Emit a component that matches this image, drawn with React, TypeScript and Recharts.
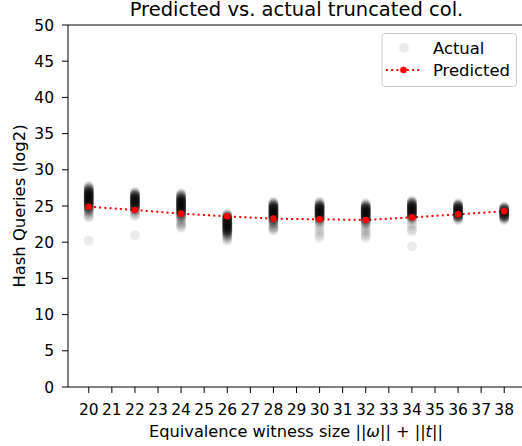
import React from "react";
import {
  ComposedChart,
  Scatter,
  Line,
  XAxis,
  YAxis,
  ReferenceLine,
} from "recharts";

// ---- data ----
const xTicks = [20, 21, 22, 23, 24, 25, 26, 27, 28, 29, 30, 31, 32, 33, 34, 35, 36, 37, 38];
const yTicks = [0, 5, 10, 15, 20, 25, 30, 35, 40, 45, 50];

const predictedX = [20, 22, 24, 26, 28, 30, 32, 34, 36, 38];
const predictedY = [24.9, 24.45, 23.94, 23.57, 23.25, 23.16, 23.07, 23.43, 23.85, 24.27];

// actual observations: [value, multiplicity]
const actual20: [number, number][] = [
  [27.8, 1], [27.6, 2], [27.4, 3], [27.2, 4], [27.0, 5], [26.8, 6], [26.6, 6], [26.4, 6],
  [26.2, 6], [26.0, 6], [25.8, 6], [25.6, 6], [25.4, 5], [25.2, 5], [25.0, 5], [24.8, 4],
  [24.6, 3], [24.4, 2], [24.2, 2], [24.0, 1], [23.8, 1], [23.6, 1], [23.4, 1], [20.2, 1],
];
const actual22: [number, number][] = [
  [27.0, 1], [26.8, 2], [26.6, 4], [26.4, 5], [26.2, 6], [26.0, 6], [25.8, 6], [25.6, 6],
  [25.4, 6], [25.2, 6], [25.0, 5], [24.8, 4], [24.6, 3], [24.4, 2], [24.2, 1], [24.0, 1],
  [23.8, 1], [23.6, 1], [21.0, 1],
];
const actual24: [number, number][] = [
  [26.8, 1], [26.6, 2], [26.4, 3], [26.2, 4], [26.0, 5], [25.8, 6], [25.6, 6], [25.4, 6],
  [25.2, 6], [25.0, 6], [24.8, 6], [24.6, 6], [24.4, 5], [24.2, 5], [24.0, 4], [23.8, 3],
  [23.6, 2], [23.4, 2], [23.2, 1], [23.0, 1], [22.8, 1], [22.6, 1], [22.4, 1], [22.2, 1], [22.0, 1],
];
const actual26: [number, number][] = [
  [24.0, 1], [23.8, 2], [23.6, 4], [23.4, 5], [23.2, 6], [23.0, 6], [22.8, 6], [22.6, 6],
  [22.4, 6], [22.2, 6], [22.0, 6], [21.8, 5], [21.6, 5], [21.4, 4], [21.2, 3], [21.0, 2],
  [20.8, 2], [20.6, 1], [20.4, 1], [20.2, 1],
];
const actual28: [number, number][] = [
  [25.6, 1], [25.4, 2], [25.2, 4], [25.0, 5], [24.8, 6], [24.6, 6], [24.4, 6], [24.2, 6],
  [24.0, 6], [23.8, 6], [23.6, 6], [23.4, 5], [23.2, 4], [23.0, 3], [22.8, 2], [22.6, 2],
  [22.4, 1], [22.2, 1], [22.0, 2], [21.8, 1], [21.6, 1],
];
const actual30: [number, number][] = [
  [25.6, 1], [25.4, 2], [25.2, 3], [25.0, 5], [24.8, 6], [24.6, 6], [24.4, 6], [24.2, 6],
  [24.0, 6], [23.8, 6], [23.6, 5], [23.4, 4], [23.2, 3], [23.0, 2], [22.8, 2], [22.5, 1],
  [22.2, 1], [21.8, 1], [21.4, 1], [21.0, 1], [20.6, 1],
];
const actual32: [number, number][] = [
  [25.4, 1], [25.2, 2], [25.0, 4], [24.8, 5], [24.6, 6], [24.4, 6], [24.2, 6], [24.0, 6],
  [23.8, 6], [23.6, 6], [23.4, 5], [23.2, 4], [23.0, 3], [22.8, 2], [22.6, 2], [22.4, 1],
  [22.1, 1], [21.8, 1], [21.5, 1], [21.2, 1], [20.9, 1], [20.6, 1],
];
const actual34: [number, number][] = [
  [25.8, 1], [25.6, 2], [25.4, 4], [25.2, 5], [25.0, 6], [24.8, 6], [24.6, 6], [24.4, 6],
  [24.2, 6], [24.0, 6], [23.8, 5], [23.6, 4], [23.4, 3], [23.2, 2], [23.0, 1], [22.6, 1],
  [22.2, 1], [21.8, 1], [21.5, 1], [19.4, 1],
];
const actual36: [number, number][] = [
  [25.4, 1], [25.2, 3], [25.0, 5], [24.8, 6], [24.6, 6], [24.4, 6], [24.2, 6], [24.0, 6],
  [23.8, 6], [23.6, 5], [23.4, 3], [23.2, 2], [23.0, 1],
];
const actual38: [number, number][] = [
  [24.9, 1], [24.8, 3], [24.6, 5], [24.4, 6], [24.2, 6], [24.0, 6], [23.8, 6], [23.6, 5],
  [23.4, 4], [23.2, 2], [23.0, 1],
];

const actualGroups: [number, [number, number][]][] = [
  [20, actual20], [22, actual22], [24, actual24], [26, actual26], [28, actual28],
  [30, actual30], [32, actual32], [34, actual34], [36, actual36], [38, actual38],
];

const POINT_ALPHA = 0.08;

const actualData = actualGroups.flatMap(([x, list]) =>
  list.map(([v, c]) => ({ x, y: v, op: 1 - Math.pow(1 - POINT_ALPHA, c) }))
);
const predictedData = predictedX.map((x, i) => ({ x, y: predictedY[i] }));

const FONT = "'DejaVu Sans', sans-serif";
const TICK_FONT = 15.5;

const XTick = (props: any) => (
  <text
    x={props.x}
    y={props.y}
    dy={19.5}
    textAnchor="middle"
    fontFamily={FONT}
    fontSize={TICK_FONT}
    fill="#000"
  >
    {props.payload.value}
  </text>
);

const YTick = (props: any) => (
  <text
    x={props.x}
    y={props.y}
    dx={-6}
    dy={5.5}
    textAnchor="end"
    fontFamily={FONT}
    fontSize={TICK_FONT}
    fill="#000"
  >
    {props.payload.value}
  </text>
);

const ActualShape = (p: any) => {
  const op = p.payload?.op ?? p.op ?? 0.08;
  return <circle cx={p.cx} cy={p.cy} r={5} fill="#000" fillOpacity={op} />;
};

export default function App() {
  return (
    <div
      style={{
        position: "fixed",
        left: 0,
        top: 0,
        width: 522,
        height: 446,
        overflow: "hidden",
        background: "#fff",
      }}
    >
      <ComposedChart
        width={530}
        height={446}
        margin={{ top: 25, right: 5, bottom: 0, left: 0 }}
      >
        <XAxis
          dataKey="x"
          type="number"
          domain={[19.1, 38.9]}
          ticks={xTicks}
          allowDataOverflow
          height={59}
          tickSize={6}
          tickMargin={2}
          interval={0}
          axisLine={{ stroke: "#000", strokeWidth: 1 }}
          tickLine={{ stroke: "#000", strokeWidth: 1 }}
          tick={<XTick />}
        />
        <YAxis
          dataKey="y"
          type="number"
          domain={[0, 50]}
          ticks={yTicks}
          allowDataOverflow
          width={68}
          tickSize={6}
          tickMargin={2}
          interval={0}
          axisLine={{ stroke: "#000", strokeWidth: 1 }}
          tickLine={{ stroke: "#000", strokeWidth: 1 }}
          tick={<YTick />}
        />
        <ReferenceLine y={50} stroke="#000" strokeWidth={1} ifOverflow="visible" />
        <Scatter
          data={actualData}
          dataKey="y"
          isAnimationActive={false}
          shape={ActualShape}
        />
        <Line
          data={predictedData}
          dataKey="y"
          type="linear"
          stroke="#ff0000"
          strokeWidth={2}
          strokeDasharray="2 3.2"
          dot={{ r: 3.3, fill: "#ff0000", stroke: "#ff0000", strokeWidth: 0 }}
          activeDot={false}
          isAnimationActive={false}
        />
      </ComposedChart>
      <svg
        width={522}
        height={446}
        style={{ position: "absolute", left: 0, top: 0, pointerEvents: "none" }}
      >
        <text x={296.5} y={16} textAnchor="middle" fontFamily={FONT} fontSize={19.5} fill="#000">
          Predicted vs. actual truncated col.
        </text>
        <text
          x={25}
          y={206}
          transform="rotate(-90 25 206)"
          textAnchor="middle"
          fontFamily={FONT}
          fontSize={16.4}
          fill="#000"
        >
          Hash Queries (log2)
        </text>
        <text x={296} y={437} textAnchor="middle" fontFamily={FONT} fontSize={16.2} fill="#000">
          Equivalence witness size ||
          <tspan fontStyle="italic">ω</tspan>|| + ||<tspan fontStyle="italic">t</tspan>||
        </text>
        {/* legend */}
        <rect
          x={382}
          y={33.5}
          width={134.5}
          height={53}
          rx={3}
          ry={3}
          fill="#fff"
          fillOpacity={0.8}
          stroke="#cccccc"
          strokeWidth={1}
        />
        <circle cx={404} cy={47.7} r={5} fill="#000" fillOpacity={POINT_ALPHA} />
        <text x={433} y={53.5} fontFamily={FONT} fontSize={16.4} fill="#000">
          Actual
        </text>
        <line
          x1={386}
          y1={70}
          x2={421}
          y2={70}
          stroke="#ff0000"
          strokeWidth={2}
          strokeDasharray="2 3.2"
        />
        <circle cx={403.5} cy={70} r={3.3} fill="#ff0000" />
        <text x={433} y={76} fontFamily={FONT} fontSize={16.4} fill="#000">
          Predicted
        </text>
      </svg>
    </div>
  );
}
